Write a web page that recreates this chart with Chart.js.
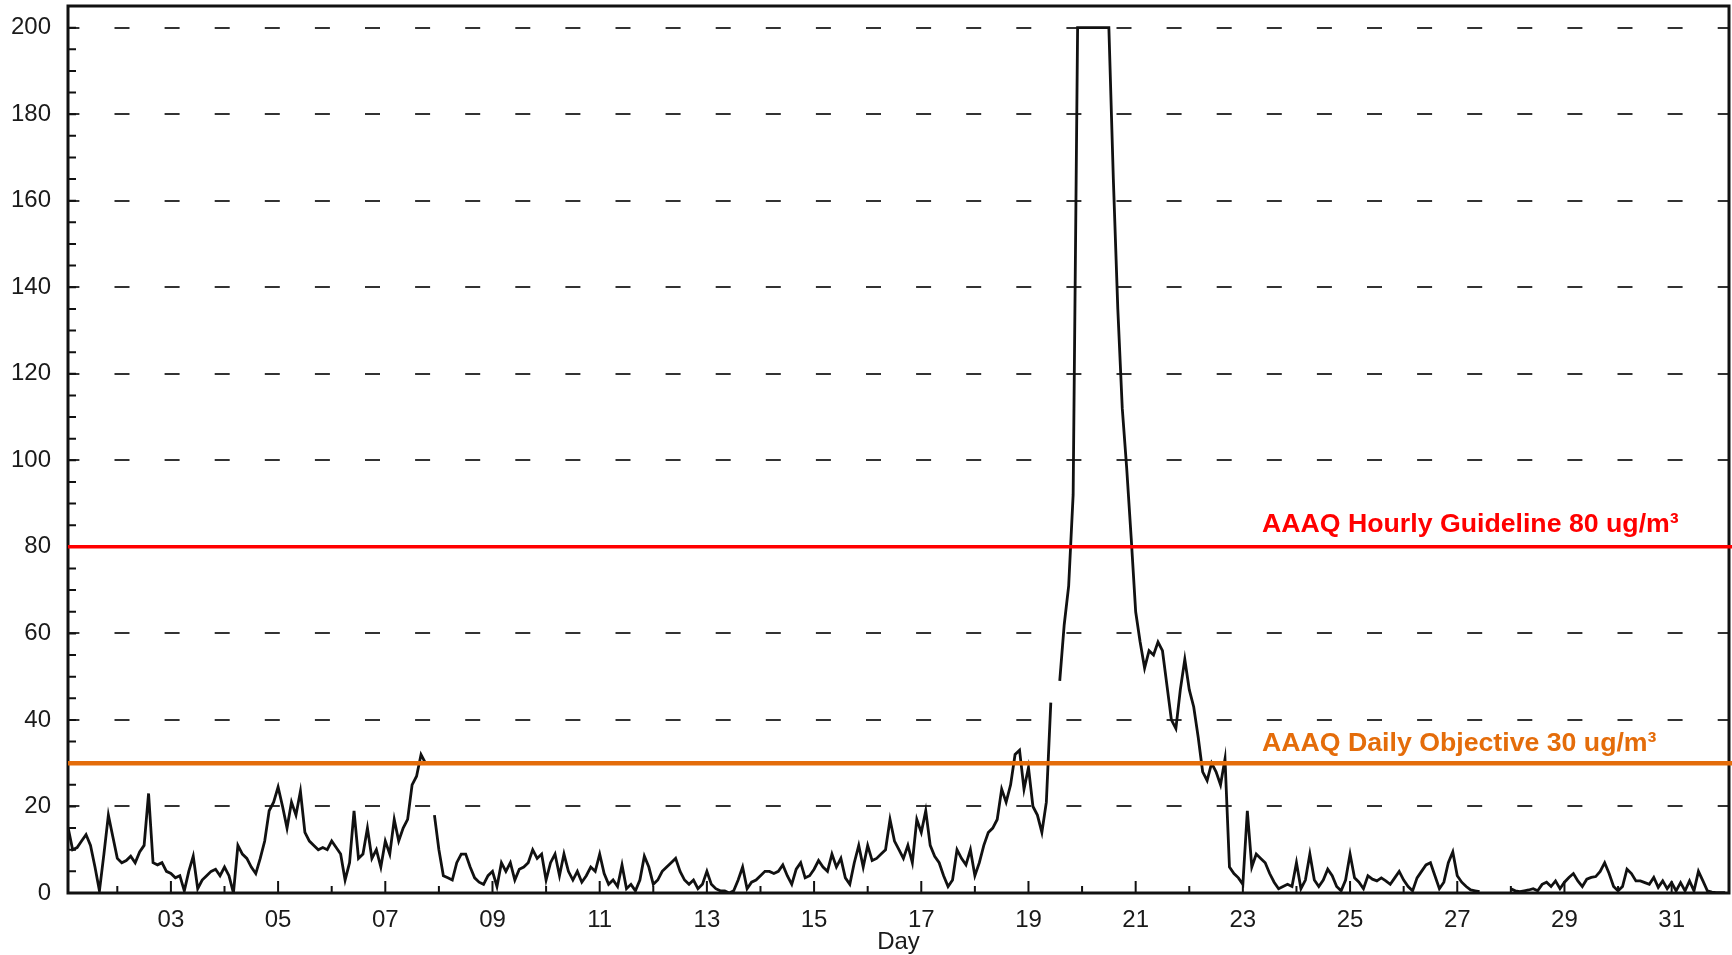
<!DOCTYPE html>
<html>
<head>
<meta charset="utf-8">
<title>Hourly concentration</title>
<script src="https://cdn.jsdelivr.net/npm/chart.js@4.4.1/dist/chart.umd.min.js"></script>
<style>
  html, body { margin: 0; padding: 0; background: #fff; }
  #wrap { width: 1732px; height: 955px; }
</style>
</head>
<body>
<div id="wrap"><canvas id="conc"></canvas></div>
<script>
// 2-hourly readings, ug/m3; null = no data
const hourStep = 2 / 24;
const firstReading = 1 + hourStep;

const week1 = [
  15, 10, 10.5, 12, 13.5, 11, 6, 0.5, 9, 18, 13, 8,
  7, 7.5, 8.5, 7, 9.5, 11, 23, 7, 6.5, 7, 5, 4.5,
  3.5, 4, 0.5, 5, 8.5, 1, 3, 4, 5, 5.5, 4, 6,
  4, 0, 11, 9, 8, 6, 4.5, 8, 12, 19, 21, 24.5,
  20, 15, 21, 18, 23.5, 14, 12, 11, 10, 10.5, 10, 12,
  10.5, 9, 3, 7, 19, 8, 9, 15, 8, 10, 6, 12,
  9, 17, 12, 15, 17, 25, 27, 32, 30, null, 18, 10
];
const week2 = [
  4, 3.5, 3, 7, 9, 9, 6, 3.5, 2.5, 2, 4, 5,
  1.5, 7, 5, 7, 3, 5.5, 6, 7, 10, 8, 9, 3,
  7, 9, 4, 9, 5, 3, 5, 2.5, 4, 6, 5, 9,
  4.5, 2, 3, 1.5, 6.5, 1, 2, 0.5, 3, 8.5, 6, 2,
  3, 5, 6, 7, 8, 5, 3, 2, 3, 1, 2, 5,
  2, 1, 0.5, 0.5, 0, 0.5, 3, 6, 1, 2.5, 3, 4,
  5, 5, 4.5, 5, 6.5, 4, 2, 5.5, 7, 3.5, 4, 5.5
];
const week3 = [
  7.5, 6, 5, 9, 6, 8, 3.5, 2, 7, 11, 6, 11,
  7.5, 8, 9, 10, 17, 12, 10, 8, 11, 7, 17, 14,
  19, 11, 8.5, 7, 4, 1.5, 3, 10, 8, 6.5, 10, 4,
  7, 11, 14, 15, 17, 24, 21, 25, 32, 33, 24, 29,
  20, 18, 14, 21, 44, null, 49, 62, 71, 92, 200, 200,
  200, 200, 200, 200, 200, 200, 165, 135, 112, 98, 82, 65,
  58, 52, 56, 55, 58, 56, 48, 40, 38, 47, 54, 47
];
const week4 = [
  43, 36, 28, 26, 30, 28, 25, 31, 6, 4.5, 3.5, 2,
  19, 6, 9, 8, 7, 4.5, 2.5, 1, 1.5, 2, 1.5, 7,
  1, 3, 9, 3, 1.5, 3, 5.5, 4, 1.5, 0.5, 3, 9,
  3.5, 2.5, 1, 4, 3.2, 2.8, 3.5, 2.8, 2, 3.5, 5, 3,
  1.5, 0.5, 3.5, 5, 6.5, 7, 4, 1, 2.5, 7, 9.5, 4,
  2.5, 1.5, 0.7, 0.5, 0.3, null, null, null, null, null, null, 1,
  0.5, 0.3, 0.5, 0.7, 1, 0.5, 2, 2.5, 1.5, 2.8, 1, 2.5
];
const lastDays = [
  3.6, 4.5, 2.8, 1.5, 3.2, 3.6, 3.8, 5, 7, 4.5, 1.5, 0.5,
  1.5, 5.5, 4.5, 2.8, 2.8, 2.4, 2, 3.6, 1.3, 2.8, 1, 2.4,
  0.5, 2.4, 0.5, 2.8, 0.5, 5, 2.8, 0.5, 0.2, 0.1, 0.1, 0.1
];

const readings = [].concat(week1, week2, week3, week4, lastDays);

const labelledDays = ['03', '05', '07', '09', '11', '13', '15', '17', '19', '21', '23', '25', '27', '29', '31'];
const yTicks = [0, 20, 40, 60, 80, 100, 120, 140, 160, 180, 200];

const limitValues = [80, 30];
const limitLabels = ['AAAQ Hourly Guideline 80 ug/m\u00b3', 'AAAQ Daily Objective 30 ug/m\u00b3'];
const limitColors = ['#ff0000', '#e46c0a'];

const FONT = "'Liberation Sans', Arial, Helvetica, sans-serif";

const points = readings.map((v, i) => ({ x: firstReading + i * hourStep, y: v }));

// frame + small inward ticks (every day on x, every 5 on y)
const boxTicks = {
  id: 'boxTicks',
  afterDatasetsDraw(chart) {
    const { ctx, chartArea: a, scales: { x, y } } = chart;
    ctx.save();
    ctx.strokeStyle = '#111';
    ctx.lineWidth = 2;
    ctx.beginPath();
    for (let v = 5; v < 205; v += 5) {
      const py = y.getPixelForValue(v);
      ctx.moveTo(a.left, py);
      ctx.lineTo(a.left + 8, py);
    }
    x.ticks.forEach(t => {
      const px = x.getPixelForValue(t.value);
      const len = t.value % 2 ? 12 : 7;
      ctx.moveTo(px, a.bottom);
      ctx.lineTo(px, a.bottom - len);
    });
    ctx.stroke();
    ctx.lineWidth = 3;
    ctx.strokeRect(a.left, a.top, a.right - a.left, a.bottom - a.top);
    ctx.restore();
  }
};

// guideline / objective lines with their captions
const guidelines = {
  id: 'guidelines',
  afterDraw(chart) {
    const { ctx, chartArea: a, scales: { y } } = chart;
    const widths = [3.5, 4.5];
    const gaps = [15, 12];
    ctx.save();
    limitValues.forEach((v, i) => {
      const py = y.getPixelForValue(v);
      ctx.strokeStyle = limitColors[i];
      ctx.lineWidth = widths[i];
      ctx.beginPath();
      ctx.moveTo(a.left, py);
      ctx.lineTo(chart.width, py);
      ctx.stroke();
      ctx.fillStyle = limitColors[i];
      ctx.font = 'bold 26.7px ' + FONT;
      ctx.textBaseline = 'alphabetic';
      ctx.textAlign = 'left';
      ctx.fillText(limitLabels[i], a.right - 467, py - gaps[i]);
    });
    ctx.restore();
  }
};

new Chart(document.getElementById('conc'), {
  type: 'line',
  data: {
    datasets: [{
      data: points,
      borderColor: '#111',
      borderWidth: 2.8,
      pointRadius: 0,
      tension: 0,
      spanGaps: false
    }]
  },
  options: {
    responsive: true,
    maintainAspectRatio: false,
    animation: false,
    devicePixelRatio: 1,
    layout: { padding: { top: 6, right: 3, left: 0, bottom: 0 } },
    plugins: {
      legend: { display: false },
      tooltip: { enabled: false }
    },
    scales: {
      x: {
        type: 'linear',
        min: 1.08,
        max: 32.07,
        afterFit(scale) {
          scale.height = 62;
          scale.paddingLeft = 0;
          scale.paddingRight = 0;
        },
        afterBuildTicks(scale) {
          const ticks = [];
          for (let d = 2; d <= 31; d++) ticks.push({ value: d });
          scale.ticks = ticks;
        },
        grid: { display: false, drawTicks: false },
        border: { display: false },
        ticks: {
          autoSkip: false,
          maxRotation: 0,
          padding: 13,
          color: '#1a1a1a',
          font: { family: FONT, size: 24 }
          ,
          callback: v => {
            const s = String(v).padStart(2, '0');
            return labelledDays.includes(s) ? s : '';
          }
        },
        title: {
          display: true,
          text: 'Day',
          color: '#1a1a1a',
          font: { family: FONT, size: 24 },
          padding: { top: 0, bottom: -2 }
        }
      },
      y: {
        min: 0,
        max: 205,
        afterFit(scale) {
          scale.width = 68;
          scale.paddingTop = 0;
          scale.paddingBottom = 0;
        },
        afterBuildTicks(scale) {
          scale.ticks = yTicks.map(v => ({ value: v }));
        },
        grid: { color: '#333', lineWidth: 2, drawTicks: false },
        border: { display: false, dash: [15, 35.1], dashOffset: 3.6 },
        ticks: {
          padding: 17,
          color: '#1a1a1a',
          font: { family: FONT, size: 24 }
        }
      }
    }
  },
  plugins: [boxTicks, guidelines]
});
</script>
</body>
</html>
